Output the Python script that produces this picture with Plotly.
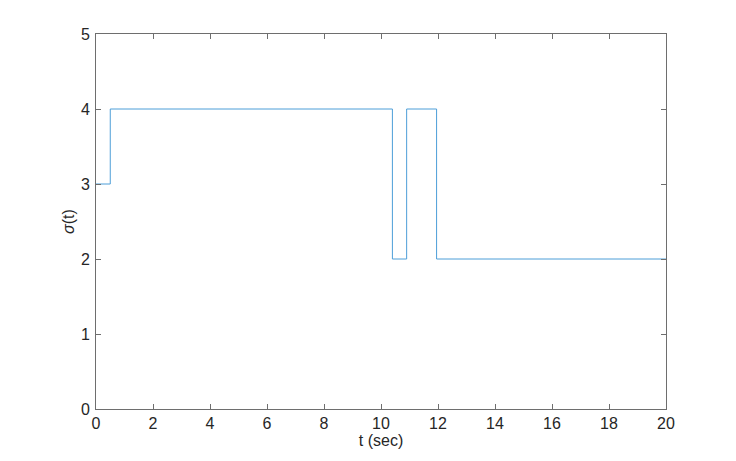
import plotly.graph_objects as go

t = [0, 0.5, 10.4, 10.9, 11.95, 20]
sigma = [3, 4, 2, 4, 2, 2]
x_ticks = [0, 2, 4, 6, 8, 10, 12, 14, 16, 18, 20]
y_ticks = [0, 1, 2, 3, 4, 5]

fig = go.Figure()
fig.add_trace(go.Scatter(x=t, y=sigma, mode="lines", line=dict(shape="hv", color="#4d9ed8", width=1)))

font_family = "Liberation Sans, Arial, sans-serif"
axis_common = dict(
    showgrid=False, zeroline=False, showline=True, linecolor="#6e6e6e", linewidth=1,
    mirror="ticks", ticks="inside", ticklen=5, tickcolor="#6e6e6e",
    tickfont=dict(family=font_family, size=16, color="#262626"),
)
fig.update_layout(
    width=736, height=461,
    margin=dict(l=88, r=78, t=26, b=60),
    paper_bgcolor="white", plot_bgcolor="white",
    showlegend=False,
    xaxis=dict(range=[0, 20], tickvals=x_ticks,
               title=dict(text="t (sec)", standoff=1,
                          font=dict(family=font_family, size=16, color="#262626")),
               **axis_common),
    yaxis=dict(range=[0, 5], tickvals=y_ticks, ticklabelstandoff=2,
               title=dict(text="<i>σ</i>(t)", standoff=2,
                          font=dict(family=font_family, size=16, color="#262626")),
               **axis_common),
)
fig.write_html("out.html")
